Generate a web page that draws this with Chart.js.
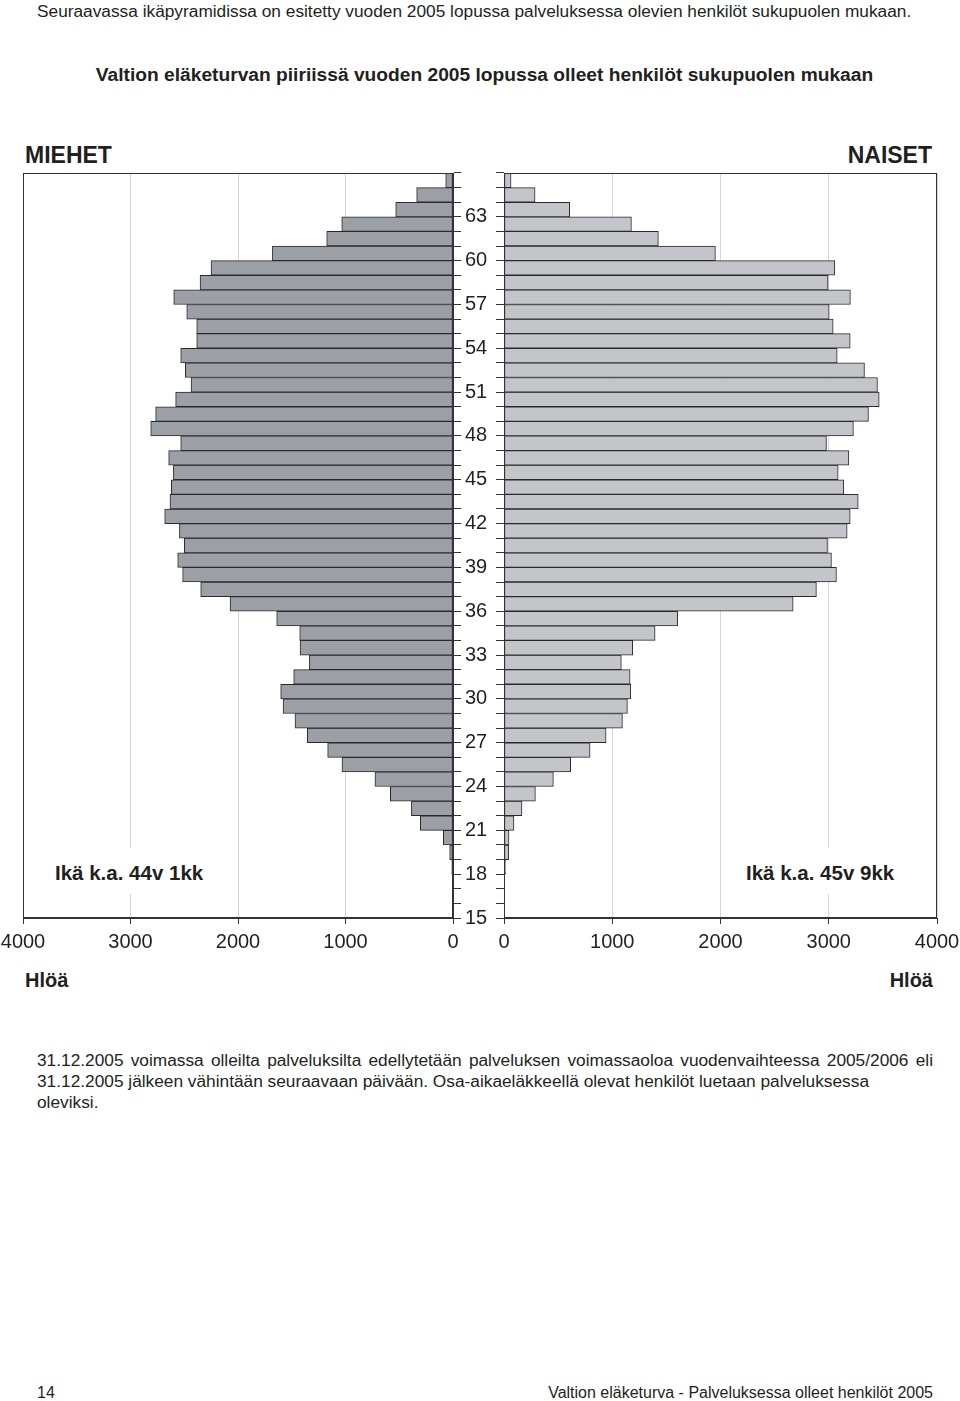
<!DOCTYPE html>
<html lang="fi">
<head>
<meta charset="utf-8">
<title>Ikäpyramidi 2005</title>
<script src="https://cdn.jsdelivr.net/npm/chart.js@4.4.1/dist/chart.umd.min.js"></script>
<style>
body { margin: 0; background: #fff; }
#sivu { position: relative; width: 960px; height: 1401px; overflow: hidden;
        font-family: "Liberation Sans", Arial, sans-serif; color: #231f20; }
#sivu canvas { position: absolute; }
.teksti { position: absolute; white-space: nowrap; line-height: 1; }
.lihava { font-weight: bold; }
.ika { background: #fff; padding: 15px 8px 10px 8px; font-size: 20.5px; font-weight: bold; }
</style>
</head>
<body>
<div id="sivu">
  <div class="teksti" style="left:37px; top:3px; font-size:17.3px;">Seuraavassa ikäpyramidissa on esitetty vuoden 2005 lopussa palveluksessa olevien henkilöt sukupuolen mukaan.</div>
  <div class="teksti lihava" style="left:0; width:969px; text-align:center; top:65px; font-size:19.2px;">Valtion eläketurvan piiriissä vuoden 2005 lopussa olleet henkilöt sukupuolen mukaan</div>
  <div class="teksti lihava" style="left:25px; top:144px; font-size:23px;">MIEHET</div>
  <div class="teksti lihava" style="right:28px; top:144px; font-size:23px;">NAISET</div>

  <canvas id="canvasMiehet" width="500" height="807" style="left:0; top:151px;"></canvas>
  <canvas id="canvasNaiset" width="510" height="807" style="left:480px; top:151px;"></canvas>

  <div class="teksti ika" style="left:47px; top:848px;">Ikä k.a. 44v 1kk</div>
  <div class="teksti ika" style="left:738px; top:848px;">Ikä k.a. 45v 9kk</div>
  <div class="teksti lihava" style="left:25px; top:970px; font-size:20px;">Hlöä</div>
  <div class="teksti lihava" style="right:27px; top:970px; font-size:20px;">Hlöä</div>

  <div class="teksti" style="left:37px; width:896px; top:1052px; font-size:17.3px; white-space:normal; text-align:justify; text-align-last:justify;">31.12.2005 voimassa olleilta palveluksilta edellytetään palveluksen voimassaoloa vuodenvaihteessa 2005/2006 eli</div>
  <div class="teksti" style="left:37px; top:1073px; font-size:17.3px;">31.12.2005 jälkeen vähintään seuraavaan päivään. Osa-aikaeläkkeellä olevat henkilöt luetaan palveluksessa</div>
  <div class="teksti" style="left:37px; top:1094px; font-size:17.3px;">oleviksi.</div>

  <div class="teksti" style="left:37px; top:1385px; font-size:16px;">14</div>
  <div class="teksti" style="right:27px; top:1385px; font-size:16px;">Valtion eläketurva - Palveluksessa olleet henkilöt 2005</div>
</div>

<script>
// ikäluokat 15..65, alimmasta ylimpään
var ikaluokat = [15, 16, 17, 18, 19, 20, 21, 22, 23, 24, 25, 26, 27, 28, 29, 30, 31, 32, 33, 34,
                 35, 36, 37, 38, 39, 40, 41, 42, 43, 44, 45, 46, 47, 48, 49, 50, 51, 52, 53, 54,
                 55, 56, 57, 58, 59, 60, 61, 62, 63, 64, 65];

var miehet = [1, 2, 4, 12, 31, 90, 304, 387, 583, 726, 1033, 1166, 1355, 1470, 1581, 1603, 1482, 1336, 1423, 1426,
              1640, 2074, 2347, 2515, 2561, 2499, 2545, 2682, 2633, 2620, 2601, 2645, 2533, 2812, 2766, 2580, 2437, 2490, 2533, 2384,
              2384, 2477, 2598, 2353, 2251, 1680, 1175, 1035, 533, 338, 68];

var naiset = [1, 2, 5, 15, 44, 46, 92, 166, 290, 456, 616, 795, 943, 1094, 1140, 1171, 1165, 1084, 1189, 1396,
              1605, 2671, 2886, 3071, 3025, 2988, 3170, 3198, 3272, 3139, 3087, 3186, 2979, 3228, 3367, 3466, 3450, 3330, 3078, 3198,
              3041, 3004, 3200, 2994, 3056, 1953, 1426, 1177, 607, 287, 65];

var henkilotTicks = [0, 1000, 2000, 3000, 4000];

var tekstiVari = "#231f20";
var viivaVari = "#333333";

Chart.defaults.font.family = '"Liberation Sans", Arial, sans-serif';
Chart.defaults.color = tekstiVari;

// kehys piirtoalueen ympärille
var kehys = {
    id: "kehys",
    afterDraw: function (chart) {
        var a = chart.chartArea;
        var ctx = chart.ctx;
        ctx.save();
        ctx.strokeStyle = viivaVari;
        ctx.lineWidth = 1;
        ctx.strokeRect(Math.round(a.left) + 0.5, Math.round(a.top) + 0.5,
                       Math.round(a.right - a.left) - 1, Math.round(a.bottom - a.top) - 1);
        ctx.restore();
    }
};

function xAkseli(kaannetty) {
    return {
        reverse: kaannetty,
        min: henkilotTicks[0],
        max: henkilotTicks[henkilotTicks.length - 1],
        afterBuildTicks: function (scale) {
            scale.ticks = henkilotTicks.map(function (v) { return { value: v }; });
        },
        ticks: {
            maxRotation: 0,
            padding: 6,
            font: { size: 20 },
            color: tekstiVari,
            callback: function (val) { return String(val); }
        },
        grid: { color: "#d6d6d6", tickColor: viivaVari, tickLength: 6 },
        border: { color: viivaVari },
        afterFit: function (scale) { scale.height = 40; }
    };
}

function yAkseli(puoli, naytaTekstit, leveys) {
    return {
        position: puoli,
        reverse: true,
        grid: { drawOnChartArea: false, drawTicks: true, tickLength: 8, tickColor: viivaVari, offset: true },
        border: { display: true, color: viivaVari },
        ticks: {
            display: naytaTekstit,
            autoSkip: false,
            padding: 4,
            labelOffset: 7.3,
            font: { size: 20 },
            color: tekstiVari,
            callback: function (val, i) {
                var ika = ikaluokat[i];
                return (ika - 15) % 3 === 0 ? String(ika) : "";
            }
        },
        afterFit: function (scale) { scale.width = leveys; }
    };
}

function pyramidinPuoli(canvas, arvot, vari, kaannetty, pehmuste, yPuoli, yTekstit, yLeveys) {
    return new Chart(canvas, {
        type: "bar",
        data: {
            labels: ikaluokat,
            datasets: [{
                data: arvot,
                backgroundColor: vari,
                borderColor: "#2a2a2a",
                borderWidth: 1,
                borderSkipped: false,
                categoryPercentage: 1,
                barPercentage: 1
            }]
        },
        options: {
            indexAxis: "y",
            responsive: false,
            animation: false,
            layout: { padding: pehmuste },
            plugins: { legend: { display: false }, tooltip: { enabled: false } },
            scales: {
                x: xAkseli(kaannetty),
                y: yAkseli(yPuoli, yTekstit, yLeveys)
            }
        },
        plugins: [kehys]
    });
}

document.addEventListener("DOMContentLoaded", function () {
    pyramidinPuoli(document.getElementById("canvasMiehet"), miehet, "#9b9fa6", true,
                   { left: 23, top: 22, right: 0, bottom: 0 }, "right", true, 47);
    pyramidinPuoli(document.getElementById("canvasNaiset"), naiset, "#c3c5ca", false,
                   { left: 0, top: 22, right: 53, bottom: 0 }, "left", false, 24);
});
</script>
</body>
</html>
